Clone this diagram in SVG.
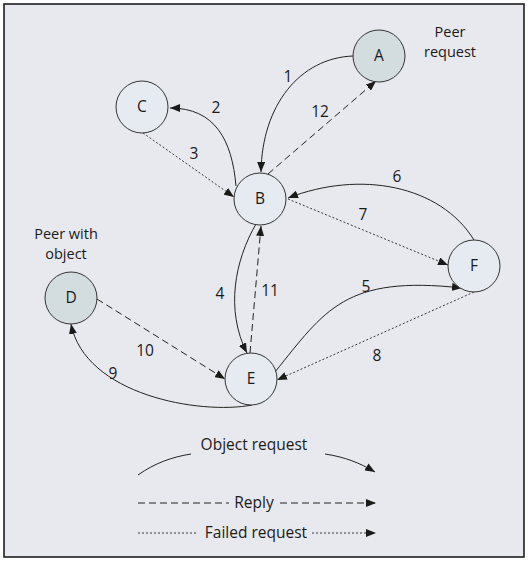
<svg xmlns="http://www.w3.org/2000/svg" width="530" height="564" viewBox="0 0 530 564">
<defs>
<marker id="ah" viewBox="0 0 10 8" refX="10" refY="4" markerWidth="10" markerHeight="8" markerUnits="userSpaceOnUse" orient="auto">
<path d="M0,0 L10,4 L0,8 z" fill="#1a1a1a"/>
</marker>
</defs>
<style>
text{font-family:"Open Sans","Noto Sans","Liberation Sans",sans-serif;font-size:15.5px;fill:#1a1a1a}
.an{font-size:14.5px}
.n circle{stroke:#333;stroke-width:1}
.lt{fill:#e6ebf1}
.dk{fill:#d3dcdf}
.e{fill:none;stroke:#222;stroke-width:1}
.dash{stroke-dasharray:7,4}
.dot{stroke-dasharray:2,2;stroke-width:0.9}
.arr{marker-end:url(#ah)}
</style>
<rect x="4" y="4" width="520" height="553" fill="#e8e9ee" stroke="#111" stroke-width="1.5"/>
<g id="connectors">
<path class="e arr" d="M353,56 C300,58 262,105 261,172"/>
<path class="e dash arr" d="M268,174 L376,81"/>
<path class="e arr" d="M236,186 C232,140 215,108 170,108"/>
<path class="e dot arr" d="M143,133 L234,197"/>
<path class="e arr" d="M474,240 C440,185 360,170 288,198"/>
<path class="e dot arr" d="M288,199 L448,265"/>
<path class="e arr" d="M256,224 C235,260 225,310 247,353"/>
<path class="e dash arr" d="M250,353 L261,226"/>
<path class="e arr" d="M275,372 C325,310 345,275 462,288"/>
<path class="e dot arr" d="M474,292 L277,380"/>
<path class="e arr" d="M252,405 C200,415 85,395 71,324"/>
<path class="e dash arr" d="M97,299 L225,379"/>
</g>
<g id="edge-labels">
<text x="288" y="82" text-anchor="middle">1</text>
<text x="320" y="117" text-anchor="middle">12</text>
<text x="216" y="113" text-anchor="middle">2</text>
<text x="194" y="159" text-anchor="middle">3</text>
<text x="397" y="182" text-anchor="middle">6</text>
<text x="363" y="220" text-anchor="middle">7</text>
<text x="220" y="299" text-anchor="middle">4</text>
<text x="270" y="296" text-anchor="middle">11</text>
<text x="366" y="292" text-anchor="middle">5</text>
<text x="377" y="361" text-anchor="middle">8</text>
<text x="113" y="379" text-anchor="middle">9</text>
<text x="145" y="356" text-anchor="middle">10</text>
</g>
<g id="node-A" class="n"><circle class="dk" cx="379" cy="56" r="26"/><text x="379" y="61" text-anchor="middle">A</text></g>
<g id="node-B" class="n"><circle class="lt" cx="260" cy="199" r="26"/><text x="260" y="204" text-anchor="middle">B</text></g>
<g id="node-C" class="n"><circle class="lt" cx="142" cy="107" r="26"/><text x="142" y="112" text-anchor="middle">C</text></g>
<g id="node-D" class="n"><circle class="dk" cx="71" cy="298" r="26"/><text x="71" y="303" text-anchor="middle">D</text></g>
<g id="node-E" class="n"><circle class="lt" cx="251" cy="379" r="26"/><text x="251" y="384" text-anchor="middle">E</text></g>
<g id="node-F" class="n"><circle class="lt" cx="474" cy="266" r="26"/><text x="474" y="271" text-anchor="middle">F</text></g>
<g id="annotations">
<text class="an" x="450" y="37" text-anchor="middle">Peer</text>
<text class="an" x="450" y="57" text-anchor="middle">request</text>
<text class="an" x="66" y="239" text-anchor="middle">Peer with</text>
<text class="an" x="66" y="259" text-anchor="middle">object</text>
</g>
<g id="legend">
<text x="254" y="450" text-anchor="middle">Object request</text>
<path class="e" d="M138,475 C155,463 172,457 191,454"/>
<path class="e arr" d="M325,454 C345,457 360,463 375,472"/>
<path class="e dash" d="M138,503 L229,503"/>
<text x="254" y="508" text-anchor="middle">Reply</text>
<path class="e dash arr" d="M280,503 L376,503"/>
<path class="e dot" d="M138,533 L198,533"/>
<text x="256" y="538" text-anchor="middle">Failed request</text>
<path class="e dot arr" d="M312,533 L376,533"/>
</g>
</svg>
